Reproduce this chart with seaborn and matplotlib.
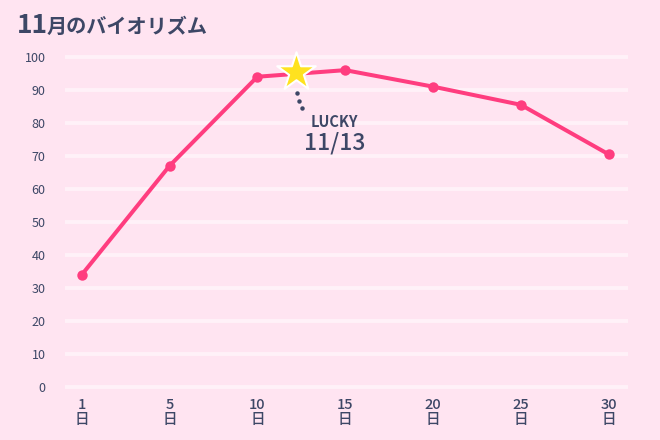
import numpy as np
import pandas as pd
import matplotlib
matplotlib.use('Agg')
import matplotlib.pyplot as plt
import seaborn as sns

# data
days = [1, 5, 10, 15, 20, 25, 30]
values = [34, 67, 94, 96, 91, 85.5, 70.5]
y_ticks = [0, 10, 20, 30, 40, 50, 60, 70, 80, 90, 100]
lucky_day = 13
lucky_value = 95.5
title_num = '11'
title_rest = '月のバイオリズム'

bg = '#FFE4F1'
pink = '#FF3D7F'
navy = '#3D4766'

sns.set_theme(style='white')
plt.rcParams['font.family'] = ['Noto Sans CJK JP', 'DejaVu Sans']

df = pd.DataFrame({'pos': np.arange(len(days)), 'value': values})

fig = plt.figure(figsize=(6.6, 4.4), dpi=100, facecolor=bg)
ax = fig.add_axes([65 / 660, 1 - 395 / 440, (628 - 65) / 660, (395 - 50) / 440])
ax.set_facecolor(bg)
ax.set_xlim(-0.19, 6.22)
ax.set_ylim(-2.4, 102.1)

# soft white gridlines
ax.hlines(y_ticks, -0.19, 6.22, color='#FFF1F8', lw=2.8,
          capstyle='round', zorder=1)

sns.lineplot(data=df, x='pos', y='value', ax=ax, color=pink, lw=2.9,
             marker='o', markersize=7.5, markeredgewidth=0, zorder=3)

# lucky star (placed between the 10 and 15 ticks)
lucky_x = np.interp(lucky_day, days, df['pos']) - 0.16
ax.scatter([lucky_x], [lucky_value], marker='*', s=850, color='#FFE21F',
           edgecolor='white', linewidth=1.5, zorder=5, clip_on=False)
ax.plot([lucky_x + 0.01, lucky_x + 0.03, lucky_x + 0.07],
        [lucky_value - 6.3, lucky_value - 8.7, lucky_value - 11.1],
        ls='none', marker='o', markersize=2.2, color=navy, zorder=4)
ax.text(lucky_x + 0.44, lucky_value - 15.2, 'LUCKY', ha='center', va='center',
        fontsize=10.5, fontweight='bold', color=navy)
ax.text(lucky_x + 0.44, lucky_value - 21.6, f'11/{lucky_day}', ha='center',
        va='center', fontsize=16.5, fontweight='medium', color=navy)

ax.set_xticks(df['pos'])
ax.set_xticklabels([f'{d}\n日' for d in days], fontsize=10.5, color=navy,
                   linespacing=1.15, fontweight='medium')
ax.set_yticks(y_ticks)
ax.set_yticklabels([str(t) for t in y_ticks], fontsize=9, color=navy)
ax.tick_params(axis='x', length=0, pad=2)
ax.tick_params(axis='y', length=0, pad=14)
ax.set_xlabel('')
ax.set_ylabel('')
sns.despine(ax=ax, left=True, bottom=True)

fig.text(17 / 660, 1 - 33 / 440, title_num, fontsize=19, fontweight='bold',
         color=navy, va='baseline')
fig.text(47 / 660, 1 - 33 / 440, title_rest, fontsize=14.5, fontweight='bold',
         color=navy, va='baseline')

fig.savefig('out.png', dpi=100, facecolor=bg)
